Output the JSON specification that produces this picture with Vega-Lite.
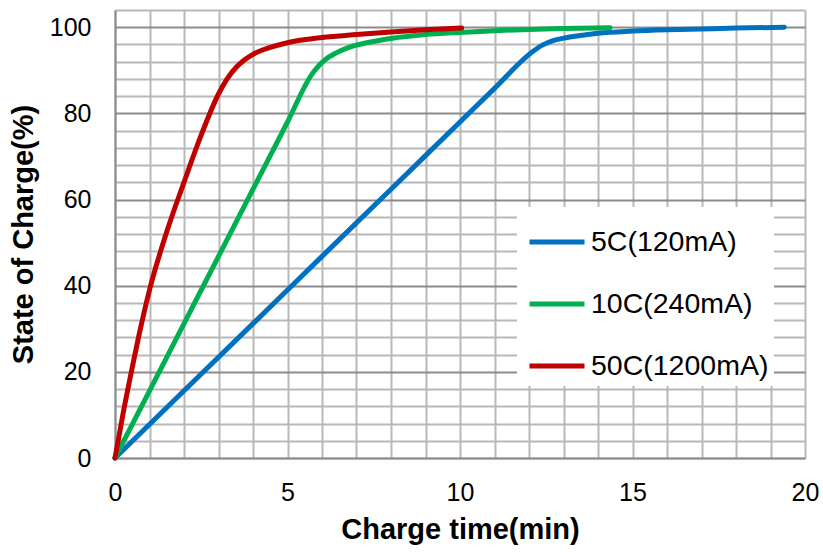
{
  "$schema": "https://vega.github.io/schema/vega-lite/v6.json",
  "autosize": "none",
  "width": 690,
  "height": 448,
  "padding": {"left": 115, "top": 10, "right": 18, "bottom": 94},
  "background": "white",
  "config": {
    "view": {"stroke": null},
    "font": "Liberation Sans"
  },
  "data": {
    "values": [
      {"s": "5C(120mA)", "t": 0, "soc": 0},
      {"s": "5C(120mA)", "t": 2, "soc": 15.6},
      {"s": "5C(120mA)", "t": 4, "soc": 31.2},
      {"s": "5C(120mA)", "t": 6, "soc": 46.8},
      {"s": "5C(120mA)", "t": 8, "soc": 62.4},
      {"s": "5C(120mA)", "t": 10, "soc": 78},
      {"s": "5C(120mA)", "t": 11, "soc": 85.8},
      {"s": "5C(120mA)", "t": 12.1, "soc": 94.3},
      {"s": "5C(120mA)", "t": 12.4, "soc": 95.9},
      {"s": "5C(120mA)", "t": 12.7, "soc": 96.9},
      {"s": "5C(120mA)", "t": 13.1, "soc": 97.6},
      {"s": "5C(120mA)", "t": 13.6, "soc": 98.2},
      {"s": "5C(120mA)", "t": 14, "soc": 98.6},
      {"s": "5C(120mA)", "t": 15, "soc": 99.1},
      {"s": "5C(120mA)", "t": 16, "soc": 99.4},
      {"s": "5C(120mA)", "t": 17, "soc": 99.6},
      {"s": "5C(120mA)", "t": 18, "soc": 99.8},
      {"s": "5C(120mA)", "t": 19.4, "soc": 100},
      {"s": "10C(240mA)", "t": 0, "soc": 0},
      {"s": "10C(240mA)", "t": 1, "soc": 15.6},
      {"s": "10C(240mA)", "t": 2, "soc": 31.2},
      {"s": "10C(240mA)", "t": 3, "soc": 46.8},
      {"s": "10C(240mA)", "t": 4, "soc": 62.4},
      {"s": "10C(240mA)", "t": 5, "soc": 78},
      {"s": "10C(240mA)", "t": 5.7, "soc": 89},
      {"s": "10C(240mA)", "t": 5.9, "soc": 91},
      {"s": "10C(240mA)", "t": 6.1, "soc": 92.5},
      {"s": "10C(240mA)", "t": 6.4, "soc": 94},
      {"s": "10C(240mA)", "t": 6.8, "soc": 95.4},
      {"s": "10C(240mA)", "t": 7.3, "soc": 96.4},
      {"s": "10C(240mA)", "t": 8, "soc": 97.4},
      {"s": "10C(240mA)", "t": 9, "soc": 98.3},
      {"s": "10C(240mA)", "t": 10, "soc": 98.8},
      {"s": "10C(240mA)", "t": 11, "soc": 99.2},
      {"s": "10C(240mA)", "t": 12, "soc": 99.5},
      {"s": "10C(240mA)", "t": 13, "soc": 99.7},
      {"s": "10C(240mA)", "t": 14.35, "soc": 99.9},
      {"s": "50C(1200mA)", "t": 0, "soc": 0},
      {"s": "50C(1200mA)", "t": 0.25, "soc": 11},
      {"s": "50C(1200mA)", "t": 0.5, "soc": 21},
      {"s": "50C(1200mA)", "t": 0.75, "soc": 30.5},
      {"s": "50C(1200mA)", "t": 1, "soc": 39},
      {"s": "50C(1200mA)", "t": 1.5, "soc": 52.5},
      {"s": "50C(1200mA)", "t": 2, "soc": 64},
      {"s": "50C(1200mA)", "t": 2.5, "soc": 75},
      {"s": "50C(1200mA)", "t": 3, "soc": 84.5},
      {"s": "50C(1200mA)", "t": 3.25, "soc": 88},
      {"s": "50C(1200mA)", "t": 3.5, "soc": 90.6},
      {"s": "50C(1200mA)", "t": 3.75, "soc": 92.4},
      {"s": "50C(1200mA)", "t": 4, "soc": 93.7},
      {"s": "50C(1200mA)", "t": 4.5, "soc": 95.3},
      {"s": "50C(1200mA)", "t": 5, "soc": 96.4},
      {"s": "50C(1200mA)", "t": 6, "soc": 97.6},
      {"s": "50C(1200mA)", "t": 7, "soc": 98.3},
      {"s": "50C(1200mA)", "t": 8, "soc": 98.9},
      {"s": "50C(1200mA)", "t": 9, "soc": 99.4},
      {"s": "50C(1200mA)", "t": 10.05, "soc": 99.8}
    ]
  },
  "mark": {"type": "line", "strokeWidth": 5, "strokeCap": "round", "interpolate": "monotone"},
  "encoding": {
    "x": {
      "field": "t",
      "type": "quantitative",
      "scale": {"domain": [0, 20], "nice": false, "zero": true},
      "axis": {
        "title": "Charge time(min)",
        "values": [0,1,2,3,4,5,6,7,8,9,10,11,12,13,14,15,16,17,18,19,20],
        "labelExpr": "datum.value % 5 === 0 ? datum.label : ''",
        "grid": true,
        "gridColor": "#b8b8b8",
        "gridWidth": 2,
        "ticks": false,
        "domainColor": "#8c8c8c",
        "domainWidth": 2,
        "labelFontSize": 25,
        "labelColor": "black",
        "labelPadding": 22,
        "labelFlush": false,
        "labelOverlap": false,
        "titleFontSize": 29,
        "titleFontWeight": "bold",
        "titleColor": "black",
        "titlePadding": 10
      }
    },
    "y": {
      "field": "soc",
      "type": "quantitative",
      "scale": {"domain": [0, 104], "nice": false},
      "axis": {
        "title": "State of Charge(%)",
        "values": [0,4,8,12,16,20,24,28,32,36,40,44,48,52,56,60,64,68,72,76,80,84,88,92,96,100,104],
        "labelExpr": "datum.value % 20 === 0 ? datum.label : ''",
        "grid": true,
        "gridColor": {"condition": {"test": "datum.value % 20 === 0 && datum.value > 0", "value": "#8c8c8c"}, "value": "#b8b8b8"},
        "gridWidth": 2,
        "ticks": false,
        "domainColor": "#8c8c8c",
        "domainWidth": 2,
        "labelFontSize": 25,
        "labelColor": "black",
        "labelPadding": 24,
        "labelOverlap": false,
        "labelFlush": false,
        "titleFontSize": 29,
        "titleFontWeight": "bold",
        "titleColor": "black",
        "titlePadding": 11
      }
    },
    "color": {
      "field": "s",
      "type": "nominal",
      "scale": {"domain": ["5C(120mA)", "10C(240mA)", "50C(1200mA)"], "range": ["#0070C0", "#00B050", "#C00000"]},
      "legend": {
        "title": null,
        "orient": "none",
        "legendX": 402,
        "legendY": 197,
        "fillColor": "white",
        "padding": 5,
        "symbolOffset": 5,
        "symbolType": "stroke",
        "symbolSize": 3025,
        "symbolStrokeWidth": 5,
        "labelFontSize": 28.5,
        "labelColor": "black",
        "labelOffset": 4,
        "rowPadding": 17,
        "labelLimit": 400
      }
    }
  }
}
